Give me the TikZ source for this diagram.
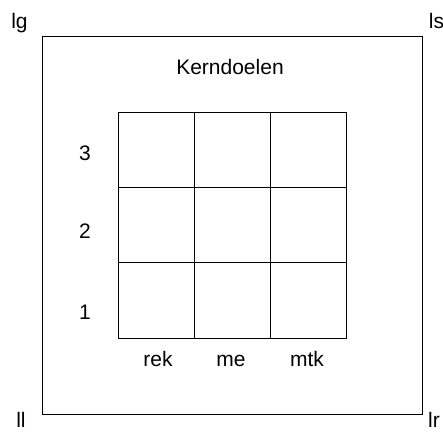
\documentclass[tikz,border=0pt]{standalone}
\usepackage{fontspec}
\setmainfont{Liberation Sans}
\begin{document}
\begin{tikzpicture}[x=1pt,y=1pt,line width=0.9pt,
    lbl/.style={font=\fontsize{21}{24}\selectfont,inner sep=0pt,anchor=base}]
      \useasboundingbox (0,0) rectangle (443,432);
      \draw (42.3,18) rectangle (422.7,395.3);
      \begin{scope}[xshift=118.3pt,yshift=94pt]
        \draw[xstep=76.13pt,ystep=75.23pt] (0,0) grid (228.4,225.7);
      \end{scope}

      \node[lbl] (title) at (230,358) {Kerndoelen};
      \node[lbl] (rek) at (158,65.3) {rek};
      \node[lbl] (me) at (231,65.3) {me};
      \node[lbl] (mtk) at (307,65.3) {mtk};
      \node[lbl] (r3) at (85,272) {3};
      \node[lbl] (r2) at (85,194) {2};
      \node[lbl] (r1) at (85,113) {1};

      \node[lbl] (lg) at (19.5,403.7) {lg};
      \node[lbl] (ls) at (436.5,403.7) {ls};
      \node[lbl] (ll) at (21,5) {ll};
      \node[lbl] (lr) at (434,5) {lr};
    \end{tikzpicture}
\end{document}
